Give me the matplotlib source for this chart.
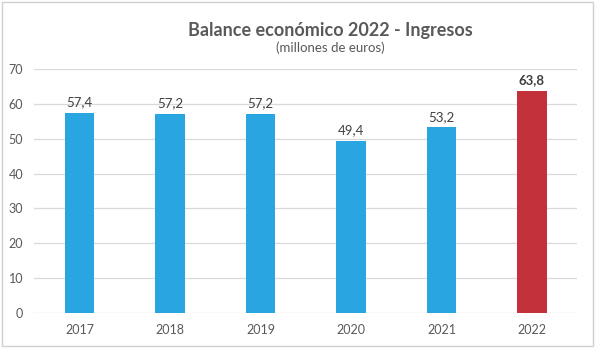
import matplotlib.pyplot as plt
from matplotlib.patches import Rectangle

# data
years = ['2017', '2018', '2019', '2020', '2021', '2022']
ingresos = [57.4, 57.2, 57.2, 49.4, 53.2, 63.8]
labels = ['57,4', '57,2', '57,2', '49,4', '53,2', '63,8']
bar_colors = ['#29A6E1'] * 5 + ['#C3313A']

plt.rcParams['font.family'] = ['Lato', 'DejaVu Sans']

fig = plt.figure(figsize=(6, 3.55), dpi=100)
ax = fig.add_axes([0.057, 0.118, 0.905, 0.688])

x = range(len(years))
bars = ax.bar(x, ingresos, width=0.33, color=bar_colors, zorder=3)

for i, b in enumerate(bars):
    bold = 'bold' if i == len(bars) - 1 else 'normal'
    ax.text(b.get_x() + b.get_width() / 2, b.get_height() + 1.3, labels[i],
            ha='center', va='bottom', fontsize=9.5, color='#404040', fontweight=bold)

ax.set_xlim(-0.5, 5.5)
ax.set_ylim(0, 70)
ax.set_yticks(range(0, 71, 10))
ax.set_xticks(list(x))
ax.set_xticklabels(years)
ax.grid(axis='y', color='#D9D9D9', linewidth=0.9, zorder=0)
for s in ax.spines.values():
    s.set_visible(False)
ax.tick_params(length=0, labelsize=9, colors='#595959', pad=8)
ax.tick_params(axis='y', pad=8)

fig.text(0.55, 0.915, 'Balance económico 2022 - Ingresos', ha='center', va='center',
         fontsize=13, fontweight='bold', color='#595959')
fig.text(0.55, 0.865, '(millones de euros)', ha='center', va='center',
         fontsize=9.5, color='#595959')

fig.patches.append(Rectangle((0.003, 0.025), 0.985, 0.97, transform=fig.transFigure,
                             fill=False, edgecolor='#D0D0D0', linewidth=1))

fig.savefig('out.png', dpi=100)
